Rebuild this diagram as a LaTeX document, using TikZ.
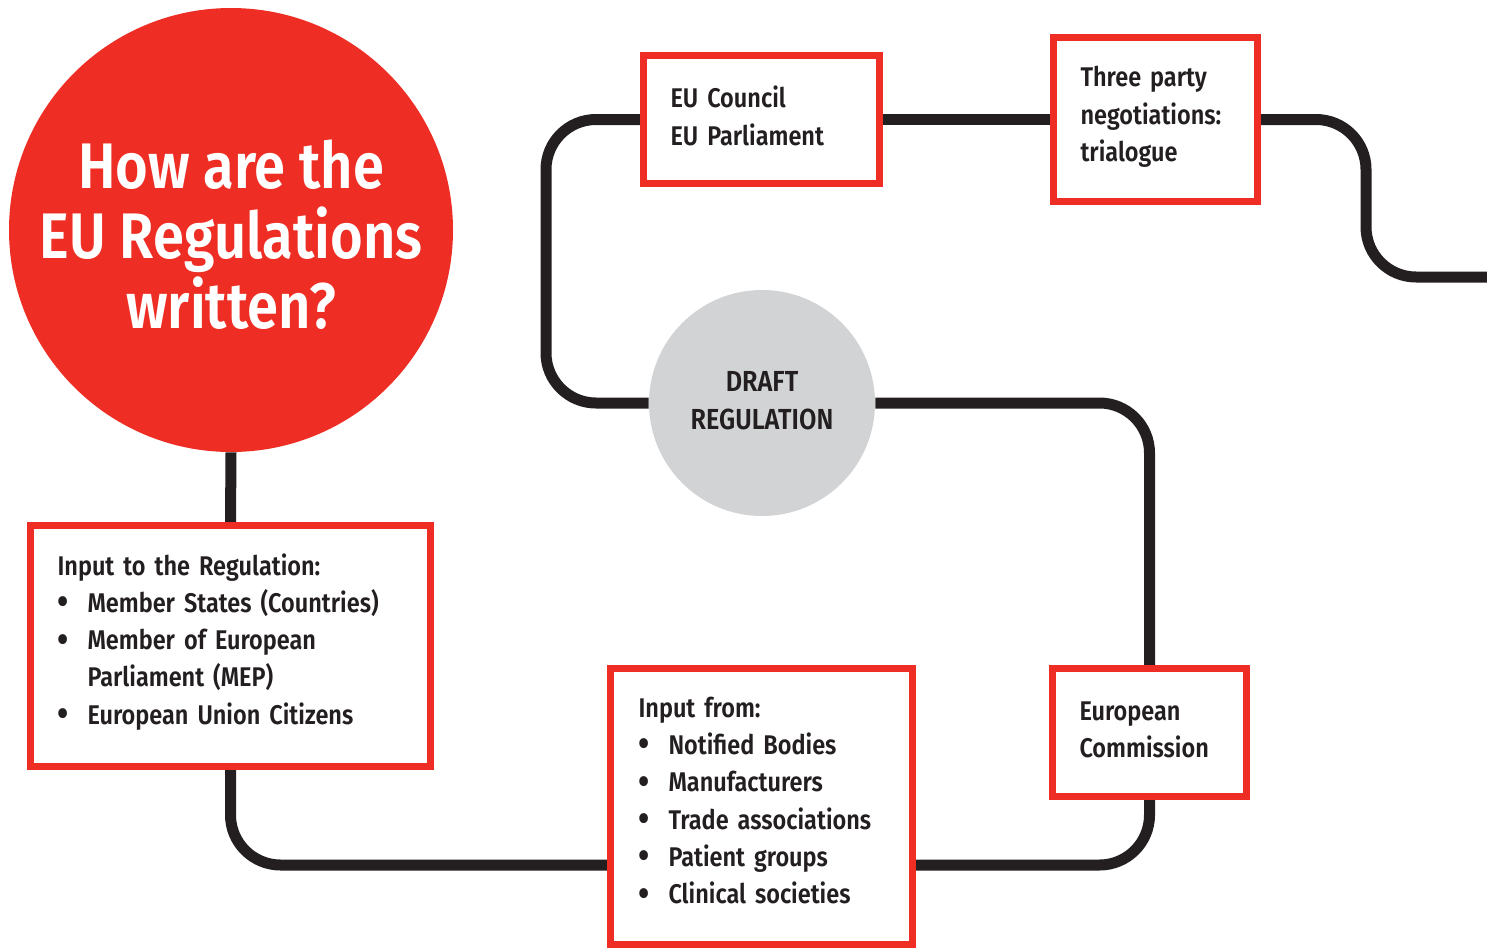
\documentclass[tikz,border=0pt]{standalone}
\usepackage{fontspec}
\setmainfont{Fira Sans}[UprightFont={* SemiBold}, FakeStretch=0.87]
\usetikzlibrary{backgrounds}
\definecolor{eured}{HTML}{EE2E24}
\definecolor{eublack}{HTML}{231F20}
\definecolor{eugray}{HTML}{D1D3D4}
\newcommand\eubul{\makebox[15pt][l]{\raisebox{-1.2pt}{\scalebox{1.4}{•}}}}
\newcommand\eulift[1]{\rule[-#1]{0pt}{0pt}}
\begin{document}
\begin{tikzpicture}[x=0.5pt,y=-0.5pt,
  conn/.style={draw=eublack, line width=5.5pt, rounded corners=25pt},
  redbox/.style={draw=eured, line width=3.5pt, fill=white, align=left,
    inner xsep=13.5pt, inner ysep=0pt, text=eublack,
    font=\fontsize{13.5}{18.65}\selectfont},
  bigcircle/.style={circle, fill=eured, inner sep=0pt, align=center, text=white,
    font=\fontsize{32.2}{35}\selectfont},
  draftcircle/.style={circle, fill=eugray, inner sep=0pt, align=center, text=eublack,
    font=\fontsize{14.5}{19}\selectfont}]
\useasboundingbox (0,0) rectangle (1487,948);

\node[bigcircle, minimum size=222pt] (title) at (231,230) {\rule{0pt}{29pt}How are the\\EU Regulations\\written?};

\node[redbox, minimum width=200pt, minimum height=120.5pt, text width=173pt] (box1) at (230.5,646)
  {Input to the Regulation:\\ \eubul Member States (Countries)\\ \eubul Member of European\\ \hspace*{15pt}Parliament (MEP)\\ \eubul European Union Citizens\eulift{7.2pt}};

\node[redbox, minimum width=151pt, minimum height=138pt, text width=123pt, inner xsep=14pt] (box2) at (761.5,806.5)
  {Input from:\\ \eubul Notified Bodies\\ \eubul Manufacturers\\ \eubul Trade associations\\ \eubul Patient groups\\ \eubul Clinical societies\eulift{6.2pt}};

\node[redbox, minimum width=97pt, minimum height=64pt, text width=70pt] (box3) at (1149.5,732.5)
  {European\\Commission\eulift{3.2pt}};

\node[draftcircle, minimum size=113pt] (draft) at (762,403) {DRAFT\\REGULATION\eulift{3pt}};

\node[redbox, minimum width=118pt, minimum height=64pt, text width=91pt] (box4) at (761.5,119.5)
  {EU Council\\EU Parliament\eulift{3.7pt}};

\node[redbox, minimum width=102pt, minimum height=82pt, text width=75pt] (box5) at (1155.5,119.5)
  {Three party\\negotiations:\\trialogue\eulift{5.7pt}};

\coordinate (lx) at (546,0);
\coordinate (rx) at (1366,277);
\coordinate (exit) at (1487,277);

\begin{scope}[on background layer]
\draw[conn] (title.south) -- (box1.north);
\draw[conn] (box1.south) |- ([yshift=-29.25pt]box2.west);
\draw[conn] ([yshift=-29.25pt]box2.east) -| (box3.south);
\draw[conn] (box3.north) |- (draft.east);
\draw[conn] (draft.west) -- (lx |- draft.west) -- (lx |- box4.west) -- (box4.west);
\draw[conn] (box4.east) -- (box5.west);
\draw[conn] (box5.east) -| (rx) -- (exit);
\end{scope}
\end{tikzpicture}
\end{document}
